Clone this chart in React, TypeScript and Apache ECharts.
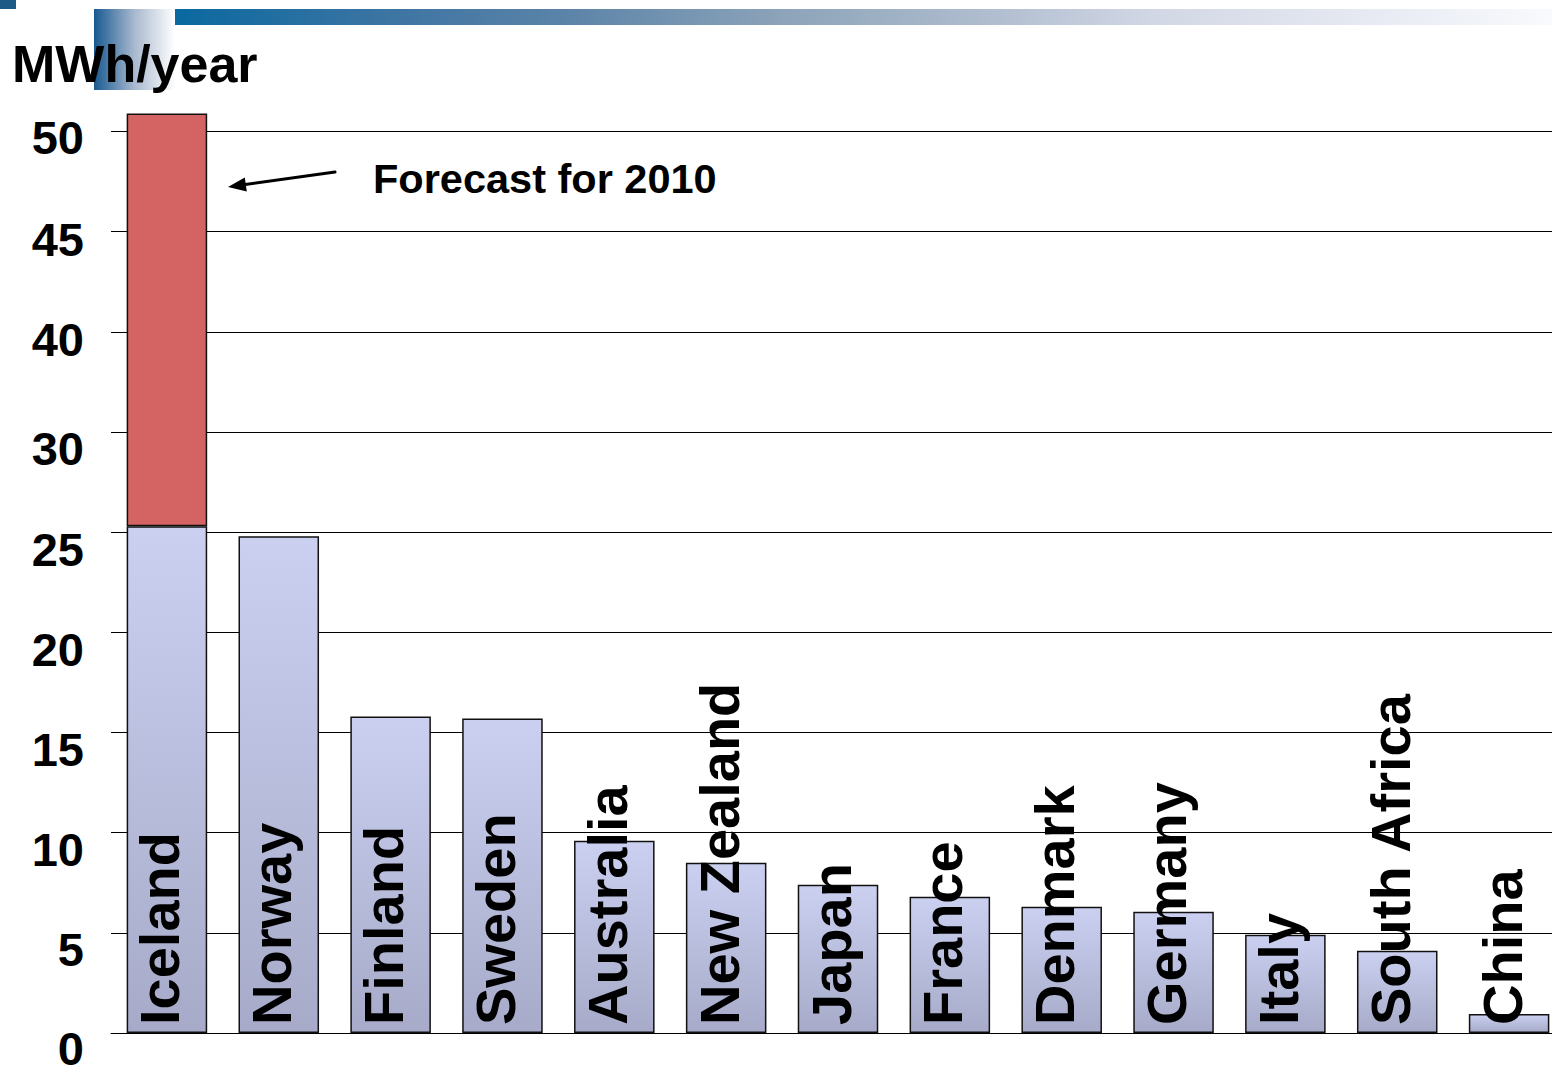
import React, { useEffect, useRef } from "react";
import * as echarts from "echarts";

const countries = [
  "Iceland", "Norway", "Finland", "Sweden", "Australia", "New Zealand", "Japan",
  "France", "Denmark", "Germany", "Italy", "South Africa", "China",
];
const currentValues = [25.3, 24.8, 15.8, 15.7, 9.6, 8.5, 7.4, 6.8, 6.3, 6.05, 4.9, 4.1, 0.95];
const forecastValues = [20.6, null, null, null, null, null, null, null, null, null, null, null, null];
const yTickLabels = ["0", "5", "10", "15", "20", "25", "30", "40", "45", "50"];
const unitLabel = "MWh/year";
const forecastLabel = "Forecast for 2010";

const FONT = "'Liberation Sans', Arial, sans-serif";
const yLabelShift = [15, 17, 17, 17, 17, 17, 16, 8, 8, 6];

export default function App() {
  const ref = useRef<HTMLDivElement>(null);
  useEffect(() => {
    if (!ref.current) return;
    const chart = echarts.init(ref.current, null, { renderer: "svg" });
    const rich: Record<string, any> = {};
    yLabelShift.forEach((s, i) => {
      rich["s" + i] = {
        padding: [2 * s, 0, 0, 0],
        fontSize: 47,
        fontWeight: "bold",
        fontFamily: FONT,
        color: "#000",
      };
    });
    const barGradient = new echarts.graphic.LinearGradient(0, 0, 0, 1, [
      { offset: 0, color: "#cbd0f1" },
      { offset: 1, color: "#a7abc9" },
    ]);
    const headArrowTip = [228, 187];
    chart.setOption({
      animation: false,
      backgroundColor: "#ffffff",
      grid: {
        left: 111,
        top: 131.5,
        width: 1454,
        height: 901.5,
        containLabel: false,
        outerBoundsMode: "none",
      },
      xAxis: {
        type: "category",
        data: countries,
        axisLine: { show: true, lineStyle: { color: "#000", width: 1 } },
        axisTick: { show: false },
        axisLabel: { show: false },
        splitLine: { show: false },
      },
      yAxis: {
        type: "value",
        min: 0,
        max: 45,
        interval: 5,
        axisLine: { show: false },
        axisTick: { show: false },
        splitLine: { show: true, lineStyle: { color: "#000", width: 1 } },
        axisLabel: {
          margin: 27,
          verticalAlign: "middle",
          formatter: (v: number) => {
            const i = Math.round(v / 5);
            return `{s${i}|${yTickLabels[i]}}`;
          },
          rich,
        },
      },
      series: [
        {
          type: "bar",
          stack: "total",
          data: currentValues,
          barCategoryGap: "28%",
          clip: false,
          itemStyle: { color: barGradient, borderColor: "#111", borderWidth: 1.5 },
          label: {
            show: true,
            position: "insideBottom",
            rotate: 90,
            align: "left",
            verticalAlign: "middle",
            distance: 8,
            offset: [0, -7],
            formatter: "{b}",
            fontSize: 56,
            fontWeight: "bold",
            fontFamily: FONT,
            color: "#000",
          },
          z: 3,
        },
        {
          type: "bar",
          stack: "total",
          data: forecastValues,
          barCategoryGap: "28%",
          clip: false,
          itemStyle: { color: "#d46464", borderColor: "#111", borderWidth: 1.5 },
          z: 2,
        },
      ],
      graphic: [
        { type: "rect", shape: { x: 0, y: 0, width: 16, height: 9 }, style: { fill: "#1d5a86" } },
        {
          type: "rect",
          shape: { x: 175, y: 9, width: 1377, height: 16 },
          style: {
            fill: new echarts.graphic.LinearGradient(0, 0, 1, 0, [
              { offset: 0, color: "#0a69a0" },
              { offset: 0.163, color: "#3f75a3" },
              { offset: 0.28, color: "#5a83a8" },
              { offset: 0.44, color: "#8ca3b9" },
              { offset: 0.6, color: "#b2bfd0" },
              { offset: 0.71, color: "#d2d7e5" },
              { offset: 1, color: "#f8fafd" },
            ]),
          },
        },
        {
          type: "rect",
          shape: { x: 94, y: 9, width: 81, height: 81 },
          style: {
            fill: new echarts.graphic.LinearGradient(0, 0, 1, 0, [
              { offset: 0, color: "#195a91" },
              { offset: 0.5, color: "#a9b9cf" },
              { offset: 1, color: "#ffffff" },
            ]),
          },
        },
        {
          type: "text",
          x: 12,
          y: 64,
          z: 10,
          style: {
            text: unitLabel,
            font: `bold 52px ${FONT}`,
            fill: "#000",
            textAlign: "left",
            textVerticalAlign: "middle",
          },
        },
        {
          type: "text",
          x: 373,
          y: 178,
          style: {
            text: forecastLabel,
            font: `bold 41.5px ${FONT}`,
            fill: "#000",
            textAlign: "left",
            textVerticalAlign: "middle",
          },
        },
        {
          type: "line",
          shape: { x1: 335, y1: 172, x2: 240, y2: 185.3 },
          style: { stroke: "#000", lineWidth: 3, lineCap: "round" },
        },
        {
          type: "polygon",
          shape: {
            points: [headArrowTip, [246.8, 191.6], [244.8, 177.6]],
          },
          style: { fill: "#000" },
        },
      ],
    });
    return () => chart.dispose();
  }, []);
  return (
    <div style={{ position: "fixed", left: 0, top: 0, width: 1552, height: 1067, overflow: "hidden", background: "#fff" }}>
      <div ref={ref} style={{ width: 1570, height: 1067 }} />
    </div>
  );
}
